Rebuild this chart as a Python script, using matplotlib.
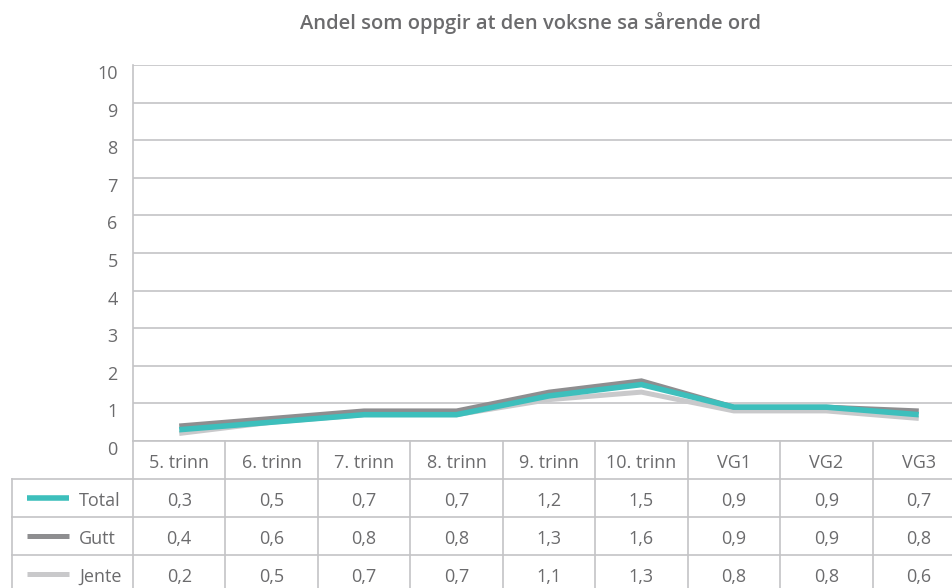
import matplotlib
matplotlib.use("Agg")
import matplotlib.pyplot as plt
from matplotlib.transforms import blended_transform_factory, offset_copy

# --- Data ---
categories = ["5. trinn", "6. trinn", "7. trinn", "8. trinn", "9. trinn",
              "10. trinn", "VG1", "VG2", "VG3"]
total = [0.3, 0.5, 0.7, 0.7, 1.2, 1.5, 0.9, 0.9, 0.7]
gutt  = [0.4, 0.6, 0.8, 0.8, 1.3, 1.6, 0.9, 0.9, 0.8]
jente = [0.2, 0.5, 0.7, 0.7, 1.1, 1.3, 0.8, 0.8, 0.6]
series_names = ["Total", "Gutt", "Jente"]
title = "Andel som oppgir at den voksne sa sårende ord"

# --- Style ---
COLORS = {"Total": "#3dbfbc", "Gutt": "#8e8e90", "Jente": "#c9c9cb"}
WIDTHS = {"Total": 4.0, "Gutt": 3.6, "Jente": 3.6}
TEXT = "#6b6b6d"
GRID = "#c4c4c6"
FS = 13
W, H = 952, 588

plt.rcParams["font.family"] = ["Open Sans", "DejaVu Sans"]

fig = plt.figure(figsize=(W / 100, H / 100), dpi=100)

# plot area in pixels: x 133..965 (cut off at the right), y 65..441
left, right, top, bottom = 133, 965, 65, 441
ax = fig.add_axes([left / W, 1 - bottom / H, (right - left) / W, (bottom - top) / H])
ax.set_xlim(-0.5, len(categories) - 0.5)
ax.set_ylim(0, 10)

x = list(range(len(categories)))
values = {"Total": total, "Gutt": gutt, "Jente": jente}
for name in ["Jente", "Gutt", "Total"]:
    ax.plot(x, values[name], color=COLORS[name], lw=WIDTHS[name],
            solid_capstyle="butt", solid_joinstyle="miter", zorder=3)

ax.set_yticks(range(0, 11))
ax.yaxis.grid(True, color=GRID, lw=1.2)
ax.set_axisbelow(True)
ax.tick_params(axis="y", length=0, pad=11, labelsize=FS, labelcolor=TEXT)
for lbl in ax.get_yticklabels():
    lbl.set_transform(offset_copy(lbl.get_transform(), fig=fig, x=0, y=-7, units="dots"))
ax.set_xticks([])
for side in ["top", "right", "bottom"]:
    ax.spines[side].set_visible(False)
ax.spines["left"].set_color(GRID)
ax.spines["left"].set_linewidth(1.2)

fig.text(530 / W, 1 - 23 / H, title, ha="center", va="center",
         fontsize=14.5, fontweight="semibold", color=TEXT)

# --- Table below the plot ---
# x in category units (shared with ax), y in figure pixels from the top
tr = blended_transform_factory(ax.transData, fig.transFigure)
tr_txt = offset_copy(tr, fig=fig, x=0, y=-3, units="dots")

def fy(py):
    return 1 - py / H

row_edges = [441, 479, 517, 555, 593]
x_left_px = 12
x_left = ax.transData.inverted().transform(fig.transFigure.transform((x_left_px / W, 0)))[0]
x_right = len(categories) - 0.5

line_kw = dict(color=GRID, lw=1.2, transform=tr, clip_on=False)
# horizontal lines
ax.plot([-0.5, x_right], [fy(row_edges[0])] * 2, **line_kw)
for py in row_edges[1:-1]:
    ax.plot([x_left, x_right], [fy(py)] * 2, **line_kw)
# vertical lines
for i in range(len(categories) + 1):
    ax.plot([i - 0.5, i - 0.5], [fy(row_edges[0]), fy(row_edges[-1])], **line_kw)
ax.plot([x_left, x_left], [fy(row_edges[1]), fy(row_edges[-1])], **line_kw)

# header
hy = fy((row_edges[0] + row_edges[1]) / 2)
for i, cat in enumerate(categories):
    ax.text(i, hy, cat, ha="center", va="center", fontsize=FS, color=TEXT,
            transform=tr_txt, clip_on=False)

# data rows
fig_txt = offset_copy(fig.transFigure, fig=fig, x=0, y=-3, units="dots")
for r, name in enumerate(series_names):
    cy = fy((row_edges[r + 1] + row_edges[r + 2]) / 2)
    fig.add_artist(plt.Line2D([27 / W, 69 / W], [cy, cy], color=COLORS[name],
                              lw=WIDTHS[name], solid_capstyle="butt"))
    fig.text(79 / W, cy, name, ha="left", va="center", fontsize=FS, color=TEXT,
             transform=fig_txt)
    for i, v in enumerate(values[name]):
        ax.text(i, cy, f"{v:.1f}".replace(".", ","), ha="center", va="center",
                fontsize=FS, color=TEXT, transform=tr_txt, clip_on=False)

fig.savefig("out.png", dpi=100)
